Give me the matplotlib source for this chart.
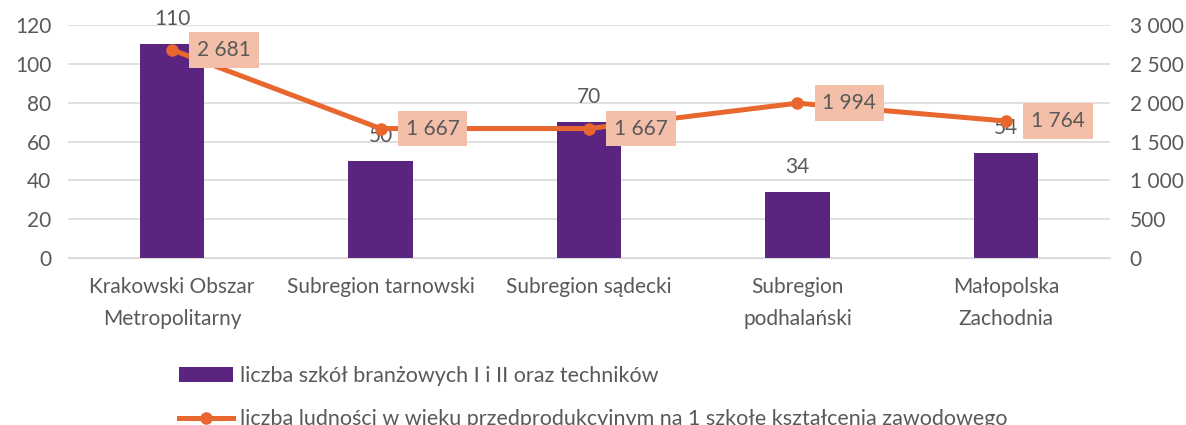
import matplotlib.pyplot as plt
from matplotlib.ticker import FuncFormatter

plt.rcParams['font.family'] = ['Lato', 'DejaVu Sans']

# dane
categories = ["Krakowski Obszar\nMetropolitarny", "Subregion tarnowski", "Subregion sądecki",
              "Subregion\npodhalański", "Małopolska\nZachodnia"]
schools = [110, 50, 70, 34, 54]
population = [2681, 1667, 1667, 1994, 1764]
bar_label = "liczba szkół branżowych I i II oraz techników"
line_label = "liczba ludności w wieku przedprodukcyjnym na 1 szkołę kształcenia zawodowego"

purple = "#5B2480"
orange = "#E8672E"
grey = "#595959"


def fmt(v, pos=None):
    return f"{int(round(v)):,}".replace(",", " ")


fig = plt.figure(figsize=(11.86, 4.25), dpi=100)
ax = fig.add_axes([0.0573, 0.393, 0.8787, 0.548])
ax2 = ax.twinx()

x = range(len(categories))
bars = ax.bar(x, schools, width=0.31, color=purple, label=bar_label, zorder=2)
ax.set_ylim(0, 120)
ax.set_yticks(range(0, 121, 20))
ax.set_xlim(-0.5, len(categories) - 0.5)
ax.set_xticks(list(x))
ax.set_xticklabels(categories, linespacing=1.75)
ax.grid(axis='y', color='#D9D9D9', linewidth=1.2, zorder=0)
ax.set_axisbelow(True)

for xi, v in zip(x, schools):
    ax.annotate(str(v), (xi, v), xytext=(0, 18), textcoords='offset points',
                ha='center', va='center', fontsize=15, color=grey)

line, = ax2.plot(list(x), population, color=orange, linewidth=3.6, marker='o',
                 markersize=8, label=line_label, zorder=3)
ax2.set_ylim(0, 3000)
ax2.set_yticks(range(0, 3001, 500))
ax2.yaxis.set_major_formatter(FuncFormatter(fmt))

for xi, v in zip(x, population):
    ax2.annotate(fmt(v), (xi, v), xytext=(18, 0), textcoords='offset points',
                 ha='left', va='center', fontsize=15, color=grey,
                 bbox=dict(boxstyle='square,pad=0.38', fc='#F4BFA8', ec='none'))

for a in (ax, ax2):
    for s in a.spines.values():
        s.set_visible(False)
    a.tick_params(length=0, labelsize=15, colors=grey)
ax.tick_params(axis='y', pad=12)
ax2.tick_params(axis='y', pad=14)
ax.tick_params(axis='x', pad=14)
ax.spines['bottom'].set_visible(True)
ax.spines['bottom'].set_color('#D9D9D9')

fig.legend(handles=[bars, line], loc='upper left', bbox_to_anchor=(0.144, 0.16),
           frameon=False, fontsize=15.5, labelcolor=grey, labelspacing=1.1,
           handlelength=2.5, handletextpad=0.3, borderaxespad=0)

fig.savefig('out.png', dpi=100)
